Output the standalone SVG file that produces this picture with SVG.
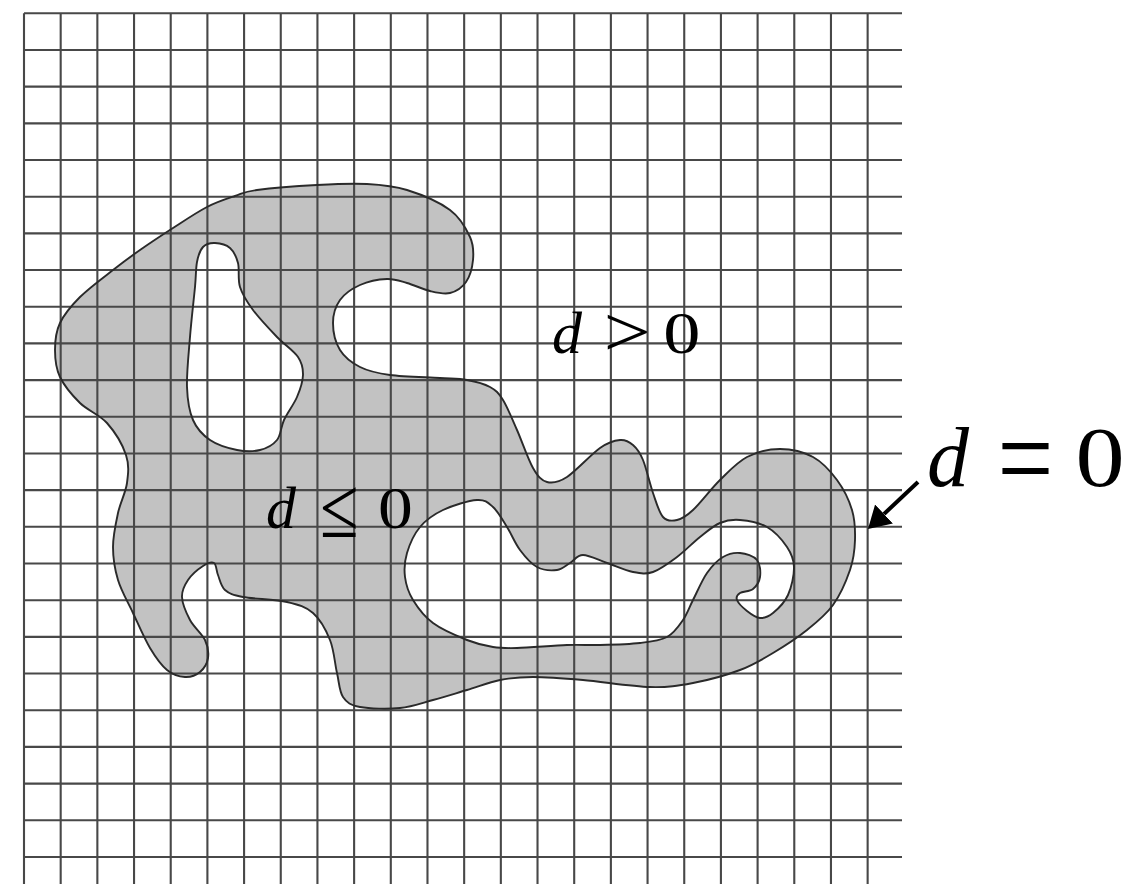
<svg xmlns="http://www.w3.org/2000/svg" width="1138" height="884" viewBox="0 0 1138 884">
<style>
.fill{fill:#c2c2c2;stroke:none;fill-rule:evenodd}
.outline{fill:none;stroke:#2a2a2a;stroke-width:1.9;stroke-linejoin:round}
.grid{fill:none;stroke:#484848;stroke-width:2.1}
.lbl{font-family:"Liberation Serif","Times New Roman",serif;fill:#000}
.it{font-style:italic}
.arrow{stroke:#000;stroke-width:4;fill:none}
</style>
<defs>
<path id="shape" d="M257,190 C270.7,188.2 298.7,186 317,185 S352,183.2 367,184 S393.2,185.7 407,190 S439.5,202.2 450,210 S466.2,228.7 470,237 S473.7,252.5 473,260 S469.8,276.5 466,282 S456,291.5 450,293 S437.2,292.7 430,291 S414.2,285 407,283 S394.8,278.7 387,279 S367.8,281.5 360,285 S344.5,293.7 340,300 S333,314.7 333,323 S335.5,342.7 340,350 S351.7,362.8 360,367 S376.7,373.2 390,375 S427.2,377.2 440,378 S458.7,378.5 467,380 S484,383.7 490,387 S498.5,392.8 503,400 S512,418.7 517,430 S528,459.3 533,468 S541.3,480.5 547,482 S558.2,482.7 567,477 S591.2,454.2 600,448 S614.5,440.5 620,440 S629.2,441.7 633,445 S639.7,452 643,460 S649.7,483.5 653,493 S659,512.5 663,517 S672,521.2 677,520 S685.8,516.7 693,510 S711,488.8 720,480 S737,462.2 747,457 S769,449 780,449 S803.5,451.8 813,457 S830.5,471.2 837,480 S849,500 852,510 S855.3,530 855,540 S853.7,559.2 850,570 S840.2,595 833,605 S817,622 807,630 S784.2,646.3 773,653 S753.3,665 740,670 S708,680.2 693,683 S668.3,687.5 650,687 S602.5,681.7 583,680 S546.8,677 533,677 S511,677.8 500,680 S478.2,686.7 467,690 S444.2,697 433,700 S412.2,706.8 400,708 S369.5,708.8 360,707 S346.8,702.7 343,697 S339.2,682.5 337,673 S334,650 330,640 S320.2,619.3 313,613 S298.7,604.7 287,602 S253.3,599 243,597 S229.2,593.7 225,590 S219.8,579.5 218,575 S216.5,564.5 214,563 S207.3,563.2 203,566 S191.5,574.8 188,580 S181.7,590.3 182,597 S186.2,612.8 190,620 S202,633.7 205,640 S208.8,652.7 208,658 S203.8,668.8 200,672 S190.5,677.3 185,677 S172.8,674.8 167,670 S155.7,657.5 150,648 S138.3,624.3 133,613 S121.3,591 118,580 S113,558.2 113,547 S115.7,523.7 118,513 S125.7,492.7 127,483 S129.3,465 126,455 S114.7,431.7 107,423 S87.8,410.7 80,403 S64.2,385.8 60,377 S55,359 55,350 S55.8,331.8 60,323 S71.2,305.8 80,297 S103,277.8 113,270 S130,257 140,250 S161.8,235.2 173,228 S196.7,212.3 207,207 S226.7,198.8 235,196 S243.3,191.8 257,190 Z
M215,243 C219.5,243.2 226.2,244.7 230,248 S236.3,256.5 238,263 S237.5,279.2 240,287 S246.8,301.7 253,310 S269.5,329.2 277,337 S293.7,350.7 298,357 S303.2,368.3 303,375 S300.2,389.5 297,397 S287.3,412.8 284,420 S281,435 277,440 S266.7,448.3 260,450 S245.3,451.7 237,450 S217.3,445 210,440 S196.8,428.8 193,420 S187.5,400.8 187,387 S188.7,353.7 190,337 S193.8,299.5 195,287 S195.7,268.7 197,262 S200,250.2 203,247 S210.5,242.8 215,243 Z
M407,553 C409.5,544.7 414,534.2 420,527 S433.5,514.5 443,510 S468.7,500.5 477,500 S488,502.5 493,507 S502.5,519.8 507,527 S515,543.3 520,550 S530.8,563.7 537,567 S551.5,570.7 557,570 S565.7,565.5 570,563 S576.8,555 583,555 S598.7,560.2 607,563 S625.3,570.5 633,572 S645.7,574.5 653,572 S669.2,562.8 677,557 S692.8,542.7 700,537 S713.3,525.8 720,523 S732.2,519.3 740,520 S759.2,522.5 767,527 S782.5,540.3 787,547 S793.8,559 794,567 S791.5,587.3 788,595 S777.7,609.2 773,613 S764.3,618.3 760,618 S750.8,614 747,611 S738.2,603 737,600 S737.3,594.8 740,593 S749.7,591.7 753,589 S759.3,581.8 760,577 S760.3,564 757,560 S745.7,553.5 740,553 S728.5,553.7 723,557 S712,565.8 707,573 S697,592.2 693,600 S687.3,613.8 683,620 S674.2,633.2 667,637 S651.2,641.7 640,643 S612.2,644.7 600,645 S580.8,644.5 567,645 S529.3,647.7 517,648 S501.3,648.3 493,647 S477,644 467,640 S442,629.7 433,623 S417.7,607.7 413,600 S406,584.8 405,577 S404.5,561.3 407,553 Z"/>
<marker id="ah" markerUnits="userSpaceOnUse" markerWidth="24" markerHeight="28" refX="0" refY="13" orient="auto">
<path d="M0,0 L22,13 L0,26 Z" fill="#000"/>
</marker>
</defs>
<rect width="1138" height="884" fill="#fff"/>
<g id="region-fill"><use href="#shape" class="fill"/></g>
<g id="grid" class="grid">
<path d="M24,13.3V884M60.68,13.3V884M97.36,13.3V884M134.04,13.3V884M170.72,13.3V884M207.4,13.3V884M244.08,13.3V884M280.76,13.3V884M317.44,13.3V884M354.12,13.3V884M390.8,13.3V884M427.48,13.3V884M464.16,13.3V884M500.84,13.3V884M537.52,13.3V884M574.2,13.3V884M610.88,13.3V884M647.56,13.3V884M684.24,13.3V884M720.92,13.3V884M757.6,13.3V884M794.28,13.3V884M830.96,13.3V884M867.64,13.3V884"/>
<path d="M24,13.3H902M24,49.98H902M24,86.66H902M24,123.34H902M24,160.02H902M24,196.7H902M24,233.38H902M24,270.06H902M24,306.74H902M24,343.42H902M24,380.1H902M24,416.78H902M24,453.46H902M24,490.14H902M24,526.82H902M24,563.5H902M24,600.18H902M24,636.86H902M24,673.54H902M24,710.22H902M24,746.9H902M24,783.58H902M24,820.26H902M24,856.94H902"/>
</g>
<g id="region-outline"><use href="#shape" class="outline"/></g>
<g id="label-outside" class="lbl" font-size="60">
<text x="552" y="353" class="it">d</text>
<text transform="translate(603.5,356) scale(1.4,1.2)">&gt;</text>
<text transform="translate(663.3,353) scale(1.24,1)">0</text>
</g>
<g id="label-inside" class="lbl" font-size="60">
<text x="266" y="528" class="it">d</text>
<text transform="translate(320,537) scale(1.17,1.45)">≤</text>
<text transform="translate(378,528) scale(1.16,1)">0</text>
</g>
<g id="label-boundary" class="lbl" font-size="84">
<text x="927" y="486" class="it">d</text>
<text transform="translate(997.5,499) scale(1.18,1.45)">=</text>
<text transform="translate(1075.6,486) scale(1.17,1)">0</text>
</g>
<g id="connectors">
<line class="arrow" x1="918" y1="482" x2="884" y2="514" marker-end="url(#ah)"/>
</g>
</svg>
